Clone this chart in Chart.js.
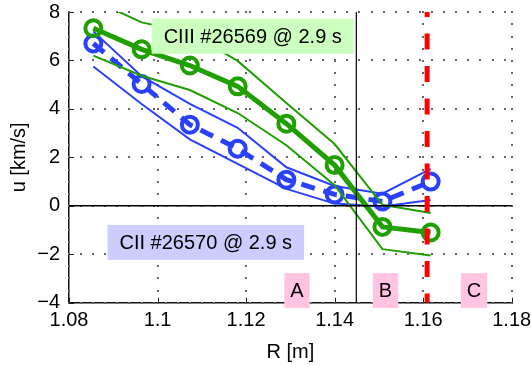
<!DOCTYPE html>
<html>
<head>
<meta charset="utf-8">
<script src="https://cdn.jsdelivr.net/npm/chart.js@4.4.1/dist/chart.umd.min.js"></script>
<style>
  html, body { margin: 0; padding: 0; background: #fff; }
  canvas { display: block; }
</style>
</head>
<body>
<canvas id="velChart" width="531" height="365"></canvas>
<script>
// radial positions of the chords [m]
const R = [1.0855, 1.0964, 1.1073, 1.1181, 1.1291, 1.1400, 1.1508, 1.1617];

// CIII #26569 velocity and its error band [km/s]
const ciiiU     = [7.33, 6.46, 5.79, 4.93, 3.39, 1.68, -0.87, -1.10];
const ciiiUpper = [8.50, 7.57, 7.15, 5.98, 4.24, 2.55, 0.04, -0.30];
const ciiiLower = [6.20, 5.37, 4.78, 3.83, 2.50, 0.85, -1.79, -2.05];

// CII #26570 velocity and its error band [km/s]
const ciiU     = [6.70, 5.03, 3.35, 2.36, 1.08, 0.47, 0.18, 1.00];
const ciiUpper = [7.20, 5.35, 4.21, 3.22, 1.59, 0.82, 0.50, 1.52];
const ciiLower = [5.75, 4.20, 2.74, 1.73, 0.70, 0.09, -0.03, 0.24];

// reference lines
const rSeparatrix = 1.1449;
const rLimiter = 1.1609;

// axes
const xTicks = [1.08, 1.10, 1.12, 1.14, 1.16, 1.18];
const yTicks = [-4, -2, 0, 2, 4, 6, 8];

// text labels (position in data units)
const labelTexts = ['CIII #26569 @ 2.9 s', 'CII #26570 @ 2.9 s', 'A', 'B', 'C'];
const labelR = [1.1215, 1.1109, 1.1315, 1.1515, 1.1715];
const labelU = [7.0, -1.51, -3.5, -3.5, -3.5];

const FONT = '"Liberation Sans", Arial, Helvetica, sans-serif';
const GREEN = '#20a000';
const BLUE = '#2a40ff';

const pts = (xs, ys) => xs.map((x, i) => ({ x: x, y: ys[i] }));
const fmt = v => (Math.round(v * 100) / 100).toString().replace('-', '\u2212');

// boxes behind the text labels
const labelStyle = [
    { bg: '#ccffbf', pad: 12 },
    { bg: '#ccccff', pad: 12 },
    { bg: '#ffc4e1', pad: 6 },
    { bg: '#ffc4e1', pad: 6 },
    { bg: '#ffc4e1', pad: 6 }
];

const labelPlugin = {
    id: 'labels',
    afterDatasetsDraw(chart) {
        const { ctx, scales: { x, y } } = chart;
        ctx.save();
        ctx.font = '20px ' + FONT;
        ctx.textAlign = 'center';
        ctx.textBaseline = 'middle';
        labelTexts.forEach((t, i) => {
            const px = x.getPixelForValue(labelR[i]);
            const py = y.getPixelForValue(labelU[i]);
            const w = ctx.measureText(t).width + 2 * labelStyle[i].pad;
            const h = 35;
            ctx.fillStyle = labelStyle[i].bg;
            ctx.fillRect(px - w / 2, py - h / 2, w, h);
            ctx.fillStyle = '#000';
            ctx.fillText(t, px, py + 1);
        });
        ctx.restore();
    }
};

// matlab style dotted grid + ticks pointing into the axes
const matlabGrid = {
    id: 'matlabGrid',
    beforeDatasetsDraw(chart) {
        const ctx = chart.ctx;
        const a = chart.chartArea;
        const x = chart.scales.x, y = chart.scales.y;
        const step = 12.1;
        ctx.save();
        ctx.fillStyle = '#666';
        xTicks.forEach(v => {
            const px = Math.round(x.getPixelForValue(v));
            for (let py = a.bottom; py >= a.top - 0.5; py -= step) {
                ctx.fillRect(px - 1, Math.round(py) - 1, 2, 2);
            }
        });
        yTicks.forEach(v => {
            const py = Math.round(y.getPixelForValue(v));
            for (let px = a.left; px <= a.right + 0.5; px += step) {
                ctx.fillRect(Math.round(px) - 1, py - 1, 2, 2);
            }
        });
        ctx.strokeStyle = '#222';
        ctx.lineWidth = 1;
        ctx.beginPath();
        xTicks.forEach(v => {
            const px = Math.round(x.getPixelForValue(v)) + 0.5;
            ctx.moveTo(px, a.bottom);
            ctx.lineTo(px, a.bottom - 5);
        });
        yTicks.forEach(v => {
            const py = Math.round(y.getPixelForValue(v)) + 0.5;
            ctx.moveTo(a.left, py);
            ctx.lineTo(a.left + 5, py);
        });
        ctx.stroke();
        ctx.restore();
    }
};

const thin = (data, color) => ({
    data: data, borderColor: color, borderWidth: 2, pointRadius: 0, fill: false, tension: 0
});

new Chart(document.getElementById('velChart'), {
    type: 'line',
    data: {
        datasets: [
            {   // limiter position
                data: pts([rLimiter, rLimiter], [8, -4]),
                borderColor: '#ff0000', borderWidth: 5, borderDash: [16, 16.5], borderDashOffset: 11,
                pointRadius: 0, borderCapStyle: 'butt'
            },
            {   // separatrix
                data: pts([rSeparatrix, rSeparatrix], [8, -4]),
                borderColor: '#000', borderWidth: 1.2, pointRadius: 0
            },
            {   // zero line
                data: pts([1.08, 1.18], [0, 0]),
                borderColor: '#000', borderWidth: 1.5, pointRadius: 0
            },
            {
                data: pts(R, ciiiU),
                borderColor: GREEN, borderWidth: 5, tension: 0,
                pointRadius: 8, pointBorderWidth: 4, pointBorderColor: GREEN,
                pointBackgroundColor: 'rgba(0,0,0,0)'
            },
            thin(pts(R, ciiiUpper), GREEN),
            thin(pts(R, ciiiLower), GREEN),
            {
                data: pts(R, ciiU),
                borderColor: BLUE, borderWidth: 5, borderDash: [14, 9], tension: 0,
                pointRadius: 8, pointBorderWidth: 4, pointBorderColor: BLUE,
                pointBackgroundColor: 'rgba(0,0,0,0)'
            },
            thin(pts(R, ciiUpper), BLUE),
            thin(pts(R, ciiLower), BLUE)
        ]
    },
    options: {
        responsive: false,
        animation: false,
        devicePixelRatio: 1,
        layout: { padding: { left: 3, right: 19.3, top: 7.3, bottom: 0 } },
        plugins: { legend: { display: false }, tooltip: { enabled: false } },
        scales: {
            x: {
                type: 'linear', min: 1.08, max: 1.18,
                afterBuildTicks: s => { s.ticks = xTicks.map(v => ({ value: v })); },
                afterFit: s => { s.height = 62.3; s.paddingLeft = 0; s.paddingRight = 0; },
                ticks: { color: '#000', font: { family: FONT, size: 20 }, padding: 6, maxRotation: 0, autoSkip: false, callback: fmt },
                grid: { display: false, drawTicks: false },
                border: { display: true, color: '#111', width: 1.5 },
                title: { display: true, text: 'R [m]', color: '#000', font: { family: FONT, size: 20 }, padding: { top: 0, bottom: 1 } }
            },
            y: {
                type: 'linear', min: -4, max: 8,
                afterBuildTicks: s => { s.ticks = yTicks.map(v => ({ value: v })); },
                afterFit: s => { s.width = 66; s.paddingTop = 0; s.paddingBottom = 0; },
                ticks: { color: '#000', font: { family: FONT, size: 20 }, padding: 9, autoSkip: false, callback: fmt },
                grid: { display: false, drawTicks: false },
                border: { display: true, color: '#111', width: 1.5 },
                title: { display: true, text: 'u [km/s]', color: '#000', font: { family: FONT, size: 20 }, padding: { top: 4, bottom: 4 } }
            }
        }
    },
    plugins: [matlabGrid, labelPlugin]
});
</script>
</body>
</html>
